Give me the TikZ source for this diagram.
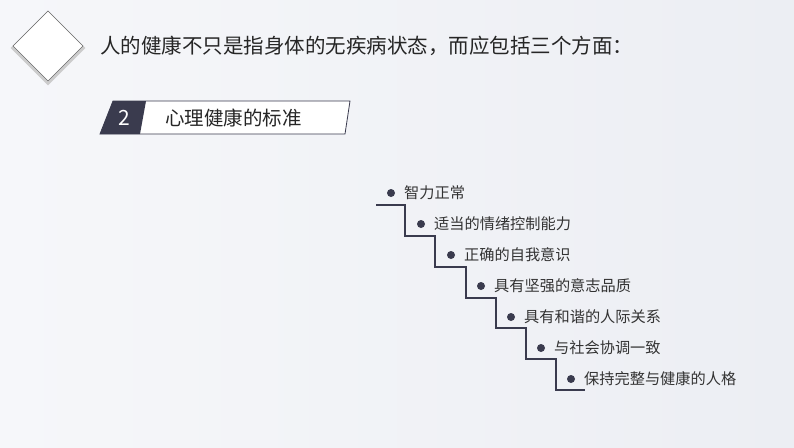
\documentclass[tikz,border=0pt]{standalone}
\usepackage{fontspec}
\setmainfont{Noto Sans CJK SC}
\begin{document}
\begin{tikzpicture}[x=1pt,y=-1pt,
  item/.style={anchor=west,font=\fontsize{15.2}{15.2}\selectfont,text=black!80,inner sep=0pt},
  dot/.style={circle,inner sep=0pt,minimum size=8}]
\definecolor{dk}{HTML}{3A3B4E}
\definecolor{bgl}{HTML}{F6F7FA}
\definecolor{bgr}{HTML}{ECEEF3}
\shade[left color=bgl, right color=bgr] (0,0) rectangle (794,447);
\useasboundingbox (0,0) rectangle (794,447);
\draw[black!20,line width=2.5pt] (48,12.5) -- (83.5,48) -- (48,83.5) -- (12.5,48) -- cycle;
\draw[fill=white,draw=black!60,line width=0.6pt] (48,11) -- (83,46) -- (48,81) -- (13,46) -- cycle;
\node[anchor=west,inner sep=0pt,font=\fontsize{20.5}{20.5}\selectfont,text=black!85] (title) at (100,46) {人的健康不只是指身体的无疾病状态，而应包括三个方面：};
\draw[fill=white,draw=dk,line width=0.8pt] (113,101) -- (350,101) -- (345,134) -- (100,134) -- cycle;
\fill[dk] (113,101) -- (146,101) -- (140,134) -- (100,134) -- cycle;
\node[text=white,font=\fontsize{21}{21}\selectfont] (num) at (124,118) {2};
\node[anchor=west,inner sep=0pt,font=\fontsize{19.5}{19.5}\selectfont,text=black!85] (sub) at (165,118) {心理健康的标准};
\draw[dk,line width=1.3pt] (376,205) -- (405,205) -- (405,236) -- (435,236) -- (435,267) -- (466,267) -- (466,298) -- (496,298) -- (496,328) -- (526,328) -- (526,359) -- (556,359) -- (556,390) -- (585,390);
\foreach \t [count=\i] in {智力正常,适当的情绪控制能力,正确的自我意识,具有坚强的意志品质,具有和谐的人际关系,与社会协调一致,保持完整与健康的人格}{
  \node[dot,fill=dk] (d\i) at ({391+30*(\i-1)},{193+31*(\i-1)}) {};
  \node[item] (t\i) at ({404+30*(\i-1)},{193+31*(\i-1)}) {\t};
}
\end{tikzpicture}
\end{document}
